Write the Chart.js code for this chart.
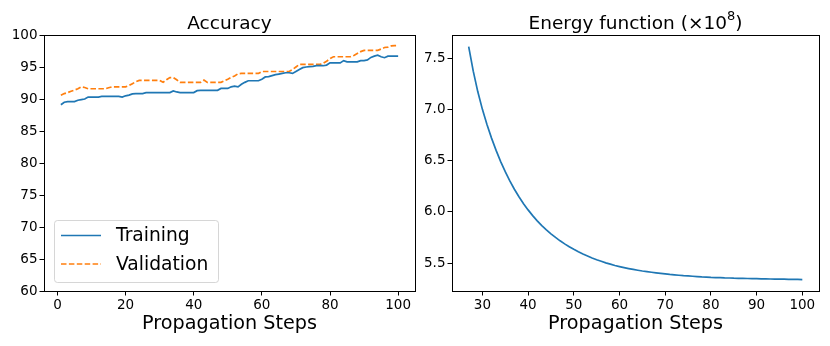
<!DOCTYPE html>
<html>
<head>
<meta charset="utf-8">
<script src="https://cdn.jsdelivr.net/npm/chart.js@4"></script>
<style>
  html, body { margin: 0; padding: 0; background: #fff; }
  #wrap { position: relative; width: 830px; height: 346px; overflow: hidden; }
  canvas { position: absolute; top: 0; }
  #accCanvas { left: 0; }
  #energyCanvas { left: 415px; }
</style>
</head>
<body>
<div id="wrap">
  <canvas id="accCanvas" width="430" height="346" style="width:430px;height:346px"></canvas>
  <canvas id="energyCanvas" width="415" height="346" style="width:415px;height:346px"></canvas>
</div>
<script>
// Accuracy per propagation step (1..100)
const trainingAcc = [
  89.1, 89.5, 89.6, 89.6, 89.6, 89.8, 89.9, 90.0, 90.3, 90.3,
  90.3, 90.3, 90.4, 90.4, 90.4, 90.4, 90.4, 90.4, 90.3, 90.5,
  90.6, 90.8, 90.85, 90.85, 90.85, 91.0, 91.0, 91.0, 91.0, 91.0,
  91.0, 91.0, 91.0, 91.25, 91.1, 91.0, 91.0, 91.0, 91.0, 91.0,
  91.3, 91.35, 91.35, 91.35, 91.35, 91.35, 91.35, 91.65, 91.65, 91.65,
  91.9, 92.0, 91.9, 92.3, 92.6, 92.85, 92.85, 92.85, 92.85, 93.1,
  93.45, 93.5, 93.65, 93.8, 93.9, 94.0, 94.1, 94.1, 94.0, 94.3,
  94.6, 94.9, 95.0, 95.05, 95.1, 95.2, 95.2, 95.2, 95.3, 95.65,
  95.65, 95.65, 95.65, 96.0, 95.8, 95.8, 95.8, 95.8, 96.0, 96.0,
  96.1, 96.5, 96.7, 96.85, 96.6, 96.45, 96.7, 96.7, 96.7, 96.7
];
const validationAcc = [
  90.6, 90.85, 91.0, 91.2, 91.4, 91.6, 91.9, 91.8, 91.6, 91.6,
  91.6, 91.6, 91.6, 91.6, 91.75, 91.9, 91.9, 91.9, 91.9, 91.9,
  92.1, 92.4, 92.7, 92.9, 92.9, 92.9, 92.9, 92.9, 92.9, 92.9,
  92.6, 93.0, 93.35, 93.35, 93.0, 92.6, 92.6, 92.6, 92.6, 92.6,
  92.6, 92.6, 92.95, 92.6, 92.6, 92.6, 92.6, 92.6, 92.85, 93.1,
  93.4, 93.6, 93.95, 94.0, 94.0, 94.0, 94.0, 94.0, 94.0, 94.3,
  94.3, 94.3, 94.3, 94.3, 94.3, 94.3, 94.3, 94.3, 94.6, 95.0,
  95.4, 95.4, 95.4, 95.4, 95.4, 95.4, 95.4, 95.6, 95.9, 96.3,
  96.6, 96.6, 96.6, 96.6, 96.6, 96.6, 96.8, 97.1, 97.4, 97.6,
  97.6, 97.6, 97.6, 97.6, 97.8, 98.05, 98.1, 98.3, 98.35, 98.35
];
const accSteps = trainingAcc.map((_, i) => i + 1);

// Energy function (x10^8) for steps 27..100
const energyValues = [
  7.613, 7.374, 7.172, 7.001, 6.853, 6.720, 6.600, 6.491, 6.392, 6.302,
  6.221, 6.147, 6.080, 6.019, 5.963, 5.912, 5.866, 5.824, 5.785, 5.750,
  5.717, 5.687, 5.660, 5.634, 5.610, 5.588, 5.568, 5.549, 5.532, 5.517,
  5.502, 5.489, 5.476, 5.465, 5.455, 5.446, 5.438, 5.430, 5.422, 5.416,
  5.410, 5.404, 5.399, 5.394, 5.389, 5.385, 5.381, 5.377, 5.374, 5.371,
  5.368, 5.365, 5.363, 5.360, 5.358, 5.357, 5.355, 5.354, 5.352, 5.351,
  5.350, 5.349, 5.348, 5.347, 5.346, 5.345, 5.344, 5.343, 5.342, 5.342,
  5.341, 5.340, 5.340, 5.339
];
const energySteps = energyValues.map((_, i) => i + 27);

// Tick labels
const accXTicks = [0, 20, 40, 60, 80, 100];
const accYTicks = [60, 65, 70, 75, 80, 85, 90, 95, 100];
const energyXTicks = [30, 40, 50, 60, 70, 80, 90, 100];
const energyYTicks = [5.5, 6.0, 6.5, 7.0, 7.5];

const FONT = "'DejaVu Sans', sans-serif";
Chart.defaults.font.family = FONT;
Chart.defaults.color = '#000';

const toXY = (xs, ys) => xs.map((x, i) => ({ x: x, y: ys[i] }));

// Frame (four spines) around the plot area, drawn over the lines
const framePlugin = {
  id: 'frame',
  afterDatasetsDraw(chart) {
    const { ctx, chartArea: a } = chart;
    ctx.save();
    ctx.strokeStyle = '#000';
    ctx.lineWidth = 1;
    const l = Math.round(a.left) + 0.5, t = Math.round(a.top) + 0.5;
    const r = Math.round(a.right) + 0.5, b = Math.round(a.bottom) + 0.5;
    ctx.strokeRect(l, t, r - l, b - t);
    ctx.restore();
  }
};

// Title above the plot area; optional superscript part
const axTitlePlugin = {
  id: 'axTitle',
  afterDraw(chart, args, opts) {
    const { ctx, chartArea: a } = chart;
    const main = '18.5px ' + FONT, small = '13px ' + FONT;
    ctx.save();
    ctx.fillStyle = '#000';
    ctx.textBaseline = 'alphabetic';
    ctx.textAlign = 'left';
    const parts = [
      { t: opts.text, f: main, dy: 0 },
      { t: opts.sup || '', f: small, dy: -8.5 },
      { t: opts.after || '', f: main, dy: 0 }
    ];
    let total = 0;
    parts.forEach(p => { ctx.font = p.f; p.w = ctx.measureText(p.t).width; total += p.w; });
    let x = (a.left + a.right) / 2 - total / 2;
    const y = a.top - 6.5;
    parts.forEach(p => {
      ctx.font = p.f;
      ctx.fillText(p.t, x, y + p.dy);
      x += p.w;
    });
    ctx.restore();
  }
};

// Legend in the lower left corner of the plot area
const innerLegendPlugin = {
  id: 'innerLegend',
  afterDraw(chart, args, opts) {
    if (!opts.display) return;
    const { ctx, chartArea: a } = chart;
    const boxX = a.left + 10, boxW = 164, boxH = 62;
    const boxY = a.bottom - 9 - boxH;
    ctx.save();
    ctx.globalAlpha = 0.8;
    ctx.fillStyle = '#fff';
    ctx.strokeStyle = '#cccccc';
    ctx.lineWidth = 1;
    ctx.beginPath();
    ctx.roundRect(boxX + 0.5, boxY + 0.5, boxW, boxH, 3);
    ctx.fill();
    ctx.stroke();
    ctx.globalAlpha = 1;
    ctx.font = '18.7px ' + FONT;
    ctx.textBaseline = 'middle';
    ctx.textAlign = 'left';
    chart.data.datasets.forEach((ds, i) => {
      const y = boxY + 15.5 + i * 28.5;
      ctx.strokeStyle = ds.borderColor;
      ctx.lineWidth = ds.borderWidth;
      ctx.setLineDash(ds.borderDash || []);
      ctx.beginPath();
      ctx.moveTo(boxX + 7, y);
      ctx.lineTo(boxX + 47, y);
      ctx.stroke();
      ctx.setLineDash([]);
      ctx.fillStyle = '#000';
      ctx.fillText(ds.label, boxX + 62, y + 1);
    });
    ctx.restore();
  }
};

function axisTicks(values, fmt) {
  return {
    afterBuildTicks(axis) { axis.ticks = values.map(v => ({ value: v })); },
    ticks: {
      font: { size: 13.5 },
      color: '#000',
      padding: 2,
      callback: fmt
    },
    grid: { display: true, drawOnChartArea: false, drawTicks: true, tickLength: 4.5, color: '#000', tickWidth: 1 },
    border: { display: false }
  };
}

function xScale(min, max, ticks, fmt) {
  return Object.assign({
    type: 'linear',
    min: min,
    max: max,
    afterFit(axis) { axis.height = 55; },
    title: {
      display: true,
      text: 'Propagation Steps',
      font: { size: 19.2 },
      color: '#000',
      padding: { top: 0, bottom: 10.2 }
    }
  }, axisTicks(ticks, fmt));
}

function yScale(min, max, ticks, fmt, width) {
  return Object.assign({
    type: 'linear',
    min: min,
    max: max,
    afterFit(axis) { axis.width = width; }
  }, axisTicks(ticks, fmt));
}

// Left: accuracy
new Chart(document.getElementById('accCanvas'), {
  type: 'line',
  data: {
    datasets: [
      {
        label: 'Training',
        data: toXY(accSteps, trainingAcc),
        borderColor: '#1f77b4',
        borderWidth: 1.7,
        pointRadius: 0,
        tension: 0
      },
      {
        label: 'Validation',
        data: toXY(accSteps, validationAcc),
        borderColor: '#ff7f0e',
        borderWidth: 1.7,
        borderDash: [5.5, 2.4],
        pointRadius: 0,
        tension: 0
      }
    ]
  },
  options: {
    responsive: false,
    animation: false,
    layout: { padding: { left: 0, right: 15, top: 35, bottom: 0 } },
    plugins: {
      legend: { display: false },
      tooltip: { enabled: false },
      axTitle: { text: 'Accuracy' },
      innerLegend: { display: true }
    },
    scales: {
      x: xScale(-3.95, 104.95, accXTicks, v => String(v)),
      y: yScale(60, 100, accYTicks, v => String(v), 44)
    }
  },
  plugins: [framePlugin, axTitlePlugin, innerLegendPlugin]
});

// Right: energy function
new Chart(document.getElementById('energyCanvas'), {
  type: 'line',
  data: {
    datasets: [
      {
        label: 'Energy',
        data: toXY(energySteps, energyValues),
        borderColor: '#1f77b4',
        borderWidth: 1.7,
        pointRadius: 0,
        tension: 0
      }
    ]
  },
  options: {
    responsive: false,
    animation: false,
    layout: { padding: { left: 0, right: 11, top: 35, bottom: 0 } },
    plugins: {
      legend: { display: false },
      tooltip: { enabled: false },
      axTitle: { text: 'Energy function (×10', sup: '8', after: ')' },
      innerLegend: { display: false }
    },
    scales: {
      x: xScale(23.35, 103.65, energyXTicks, v => String(v)),
      y: yScale(5.227, 7.727, energyYTicks, v => v.toFixed(1), 37)
    }
  },
  plugins: [framePlugin, axTitlePlugin, innerLegendPlugin]
});
</script>
</body>
</html>
